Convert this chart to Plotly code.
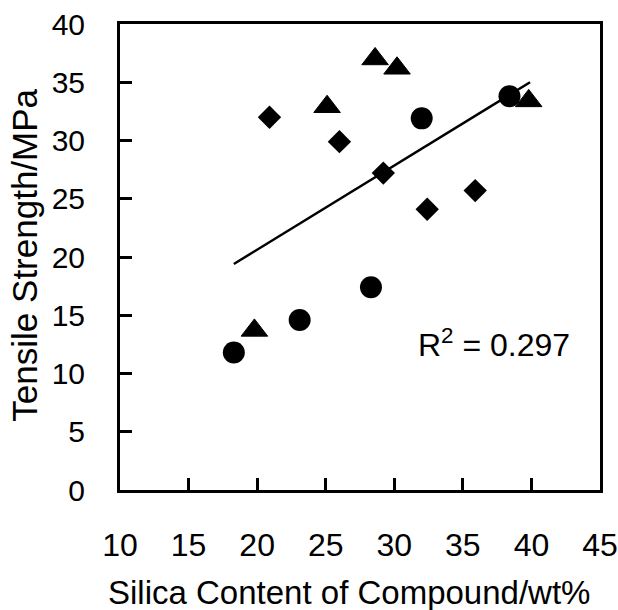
import plotly.graph_objects as go

# Data
circle_x = [18.3, 23.1, 28.3, 32.0, 38.4]
circle_y = [11.8, 14.6, 17.4, 31.9, 33.8]

triangle_x = [19.8, 25.1, 28.6, 30.2, 39.8]
triangle_y = [13.7, 32.9, 37.0, 36.2, 33.4]

diamond_x = [20.9, 26.0, 29.2, 32.4, 35.9]
diamond_y = [32.0, 29.9, 27.2, 24.1, 25.7]

trend_x = [18.3, 39.9]
trend_y = [19.4, 35.0]

r2_text = "R<sup>2</sup> = 0.297"
x_title = "Silica Content of Compound/wt%"
y_title = "Tensile Strength/MPa"
x_ticks = [10, 15, 20, 25, 30, 35, 40, 45]
y_ticks = [0, 5, 10, 15, 20, 25, 30, 35, 40]

FONT = "Liberation Sans, Arial, sans-serif"

fig = go.Figure()
fig.add_trace(go.Scatter(x=trend_x, y=trend_y, mode="lines",
                         line=dict(color="black", width=2.5), showlegend=False))
fig.add_trace(go.Scatter(x=circle_x, y=circle_y, mode="markers",
                         marker=dict(symbol="circle", size=22, color="black"), showlegend=False))
fig.add_trace(go.Scatter(x=triangle_x, y=triangle_y, mode="markers",
                         marker=dict(symbol="triangle-up", size=23, color="black",
                                     line=dict(color="black", width=1)), showlegend=False))
fig.add_trace(go.Scatter(x=diamond_x, y=diamond_y, mode="markers",
                         marker=dict(symbol="diamond", size=18, color="black"), showlegend=False))

fig.add_annotation(x=37.3, y=12.6, xref="x", yref="y", text=r2_text, showarrow=False,
                   font=dict(family=FONT, size=32, color="black"))
fig.add_annotation(x=0.477, y=-0.221, xref="paper", yref="paper", text=x_title, showarrow=False,
                   xanchor="center", yanchor="middle",
                   font=dict(family=FONT, size=33, color="black"))
fig.add_annotation(x=-0.198, y=0.505, xref="paper", yref="paper", text=y_title, showarrow=False,
                   textangle=-90, xanchor="center", yanchor="middle",
                   font=dict(family=FONT, size=35, color="black"))

fig.update_layout(
    width=618, height=610,
    margin=dict(l=120, r=18, t=24, b=120),
    paper_bgcolor="white", plot_bgcolor="white",
    font=dict(family=FONT, color="black"),
)
fig.update_xaxes(range=[10, 45], tickvals=x_ticks, ticktext=[str(v) for v in x_ticks],
                 automargin=False,
                 showgrid=False, zeroline=False, showline=True, linecolor="black", linewidth=3,
                 mirror=True, ticks="inside", ticklen=12, tickwidth=3, tickcolor="black",
                 tickfont=dict(family=FONT, size=32, color="black"), ticklabelstandoff=25)
fig.update_yaxes(range=[0, 40], tickvals=y_ticks, ticktext=[str(v) for v in y_ticks],
                 automargin=False,
                 showgrid=False, zeroline=False, showline=True, linecolor="black", linewidth=3,
                 mirror=True, ticks="inside", ticklen=12, tickwidth=3, tickcolor="black",
                 tickfont=dict(family=FONT, size=30, color="black"), ticklabelstandoff=26)

fig.write_html("out.html")
